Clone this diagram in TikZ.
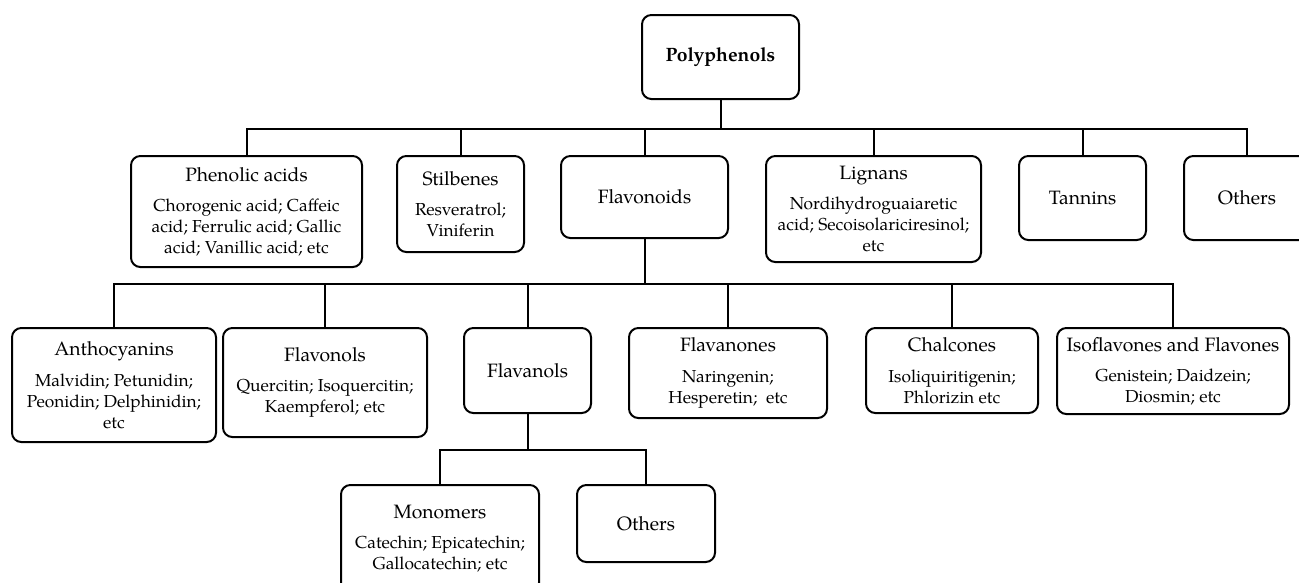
\documentclass[tikz,border=0pt]{standalone}
\usepackage{fontspec}
\setmainfont{TeX Gyre Pagella}
\newcommand\tsz{\fontsize{14.5}{17}\selectfont}
\newcommand\bsz{\fontsize{13}{15.75}\selectfont}
\tikzset{
  box/.style={draw, line width=1.5pt, rounded corners=7pt, inner sep=0pt, align=center, font=\bsz},
  sz/.style 2 args={minimum width=#1*0.75pt, minimum height=#2*0.75pt},
  conn/.style={line width=1.5pt},
}
\begin{document}
\begin{tikzpicture}[x=0.75pt, y=-0.75pt]
\useasboundingbox (0,0) rectangle (1299,582);
% level 0
\node[box, sz={157}{84}] (poly) at (720.5,57) {\tsz\bfseries Polyphenols};
% level 1
\node[box, sz={231}{111}] (pa) at (246.5,211.5) {{\tsz Phenolic acids}\\[7pt]Chorogenic acid; Caffeic\\acid; Ferrulic acid; Gallic\\acid; Vanillic acid; etc};
\node[box, sz={127}{96}] (st) at (460.5,204) {{\tsz Stilbenes}\\[7pt]Resveratrol;\\Viniferin};
\node[box, sz={167}{82}] (fl) at (644.5,197) {\tsz Flavonoids};
\node[box, sz={215}{106}] (lg) at (873.5,209) {{\tsz Lignans}\\[7pt]Nordihydroguaiaretic\\acid; Secoisolariciresinol;\\etc};
\node[box, sz={127}{84}] (ta) at (1082.5,198) {\tsz Tannins};
\node[box, sz={126}{84}] (ot) at (1247,198) {\tsz Others};
% level 2
\node[box, sz={204}{114}] (an) at (114,385) {{\tsz Anthocyanins}\\[7pt]Malvidin; Petunidin;\\Peonidin; Delphinidin;\\etc};
\node[box, sz={204}{109}] (fo) at (325,382.5) {{\tsz Flavonols}\\[7pt]Quercitin; Isoquercitin;\\Kaempferol; etc};
\node[box, sz={127}{85}] (fa) at (527.5,370.5) {\tsz Flavanols};
\node[box, sz={198}{90}] (fn) at (728,373) {{\tsz Flavanones}\\[7pt]Naringenin;\\Hesperetin;\ \ etc};
\node[box, sz={172}{85}] (ch) at (952,370.5) {{\tsz Chalcones}\\[7pt]Isoliquiritigenin;\\Phlorizin etc};
\node[box, sz={232}{86}] (is) at (1173,371) {{\tsz Isoflavones and Flavones}\\[7pt]Genistein; Daidzein;\\Diosmin; etc};
% level 3
\node[box, sz={198}{107}] (mo) at (440,538.5) {{\tsz Monomers}\\[7pt]Catechin; Epicatechin;\\Gallocatechin; etc};
\node[box, sz={138}{77}] (o2) at (646,523.5) {\tsz Others};
% connectors
\draw[conn] (poly.south) -- ++(0,29) coordinate (j1);
\foreach \c in {pa,st,fl,lg,ta,ot} \draw[conn] (j1) -| (\c.north);
\draw[conn] (fl.south) -- ++(0,45) coordinate (j2);
\foreach \c in {an,fo,fa,fn,ch,is} \draw[conn] (j2) -| (\c.north);
\draw[conn] (fa.south) -- ++(0,36) coordinate (j3);
\foreach \c in {mo,o2} \draw[conn] (j3) -| (\c.north);
\end{tikzpicture}
\end{document}
